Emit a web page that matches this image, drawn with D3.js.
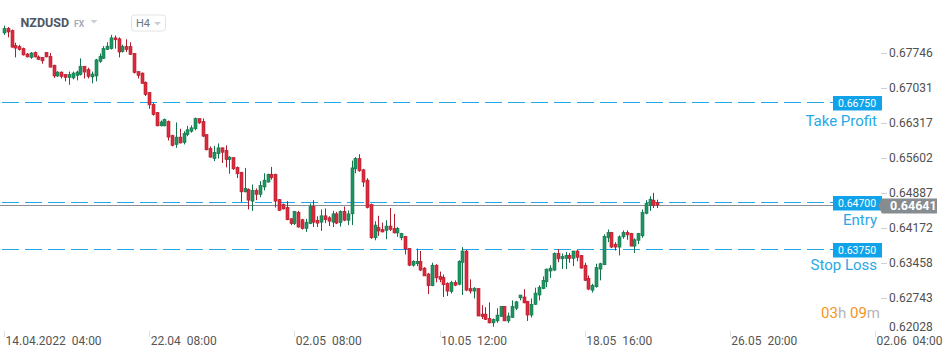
<!DOCTYPE html>
<html><head><meta charset="utf-8">
<script src="https://cdn.jsdelivr.net/npm/d3@7/dist/d3.min.js"></script>
<style>
html,body{margin:0;padding:0;background:#fff;}
svg{display:block;font-family:Roboto,"Noto Sans",sans-serif;}
</style></head><body>
<svg id="c" width="949" height="358"></svg>
<script>
// ---- data (H4 candles, NZDUSD) ----
const open = [0.6816,0.6825,0.6821,0.6790,0.6788,0.6784,0.6773,0.6766,0.6776,0.6767,0.6766,0.6776,0.6768,0.6750,0.6728,0.6736,0.6731,0.6725,0.6724,0.6729,
0.6731,0.6748,0.6741,0.6726,0.6728,0.6758,0.6764,0.6782,0.6784,0.6806,0.6804,0.6778,0.6788,0.6788,0.6774,0.6737,0.6734,0.6715,0.6694,0.6670,
0.6653,0.6626,0.6626,0.6635,0.6606,0.6588,0.6603,0.6592,0.6608,0.6615,0.6620,0.6641,0.6635,0.6608,0.6580,0.6559,0.6569,0.6581,0.6576,0.6557,
0.6561,0.6541,0.6531,0.6491,0.6496,0.6472,0.6494,0.6486,0.6501,0.6511,0.6527,0.6527,0.6475,0.6465,0.6459,0.6436,0.6426,0.6449,0.6434,0.6416,
0.6426,0.6461,0.6433,0.6429,0.6442,0.6438,0.6429,0.6446,0.6428,0.6451,0.6433,0.6446,0.6538,0.6559,0.6536,0.6515,0.6465,0.6397,0.6418,0.6414,
0.6412,0.6421,0.6416,0.6407,0.6397,0.6400,0.6375,0.6341,0.6344,0.6349,0.6335,0.6323,0.6299,0.6341,0.6318,0.6316,0.6304,0.6287,0.6306,0.6302,
0.6347,0.6370,0.6293,0.6288,0.6293,0.6241,0.6241,0.6232,0.6223,0.6227,0.6236,0.6257,0.6227,0.6234,0.6253,0.6274,0.6276,0.6267,0.6239,0.6261,
0.6280,0.6293,0.6307,0.6329,0.6331,0.6365,0.6354,0.6355,0.6361,0.6355,0.6370,0.6361,0.6341,0.6314,0.6290,0.6297,0.6333,0.6342,0.6397,0.6408,
0.6384,0.6378,0.6399,0.6408,0.6406,0.6380,0.6392,0.6401,0.6447,0.6463,0.6474,0.6469];
const high = [0.6831,0.6828,0.6823,0.6796,0.6792,0.6786,0.6775,0.6777,0.6778,0.6770,0.6767,0.6777,0.6775,0.6751,0.6738,0.6737,0.6732,0.6737,0.6737,0.6739,
0.6764,0.6748,0.6745,0.6737,0.6763,0.6774,0.6789,0.6797,0.6812,0.6811,0.6807,0.6792,0.6803,0.6797,0.6775,0.6737,0.6735,0.6717,0.6695,0.6673,
0.6654,0.6637,0.6641,0.6637,0.6608,0.6633,0.6620,0.6615,0.6626,0.6627,0.6643,0.6641,0.6641,0.6608,0.6584,0.6585,0.6590,0.6582,0.6586,0.6564,
0.6562,0.6543,0.6532,0.6540,0.6498,0.6506,0.6498,0.6513,0.6529,0.6528,0.6542,0.6528,0.6476,0.6467,0.6472,0.6437,0.6452,0.6452,0.6436,0.6436,
0.6467,0.6474,0.6441,0.6455,0.6457,0.6441,0.6452,0.6450,0.6453,0.6461,0.6453,0.6555,0.6562,0.6568,0.6538,0.6519,0.6467,0.6431,0.6442,0.6428,
0.6433,0.6458,0.6446,0.6419,0.6407,0.6401,0.6376,0.6351,0.6375,0.6370,0.6337,0.6325,0.6346,0.6343,0.6328,0.6322,0.6306,0.6309,0.6310,0.6351,
0.6378,0.6372,0.6312,0.6296,0.6294,0.6259,0.6255,0.6265,0.6232,0.6253,0.6257,0.6257,0.6244,0.6269,0.6268,0.6280,0.6292,0.6268,0.6273,0.6295,
0.6300,0.6318,0.6334,0.6341,0.6367,0.6374,0.6365,0.6368,0.6366,0.6370,0.6372,0.6362,0.6346,0.6320,0.6303,0.6344,0.6346,0.6404,0.6414,0.6409,
0.6388,0.6402,0.6412,0.6412,0.6407,0.6396,0.6407,0.6455,0.6474,0.6482,0.6489,0.6475];
const low = [0.6812,0.6807,0.6786,0.6766,0.6780,0.6770,0.6766,0.6763,0.6766,0.6761,0.6753,0.6766,0.6746,0.6724,0.6726,0.6723,0.6717,0.6710,0.6721,0.6719,
0.6729,0.6723,0.6723,0.6713,0.6717,0.6755,0.6763,0.6782,0.6782,0.6784,0.6766,0.6776,0.6777,0.6771,0.6733,0.6723,0.6712,0.6687,0.6661,0.6647,
0.6625,0.6625,0.6625,0.6596,0.6584,0.6581,0.6590,0.6588,0.6605,0.6612,0.6617,0.6630,0.6603,0.6576,0.6561,0.6554,0.6559,0.6550,0.6541,0.6528,
0.6536,0.6519,0.6470,0.6490,0.6455,0.6452,0.6474,0.6480,0.6494,0.6510,0.6516,0.6459,0.6452,0.6455,0.6433,0.6423,0.6423,0.6418,0.6414,0.6409,
0.6425,0.6419,0.6419,0.6411,0.6427,0.6421,0.6419,0.6425,0.6420,0.6431,0.6423,0.6423,0.6529,0.6532,0.6501,0.6457,0.6395,0.6392,0.6401,0.6408,
0.6394,0.6411,0.6406,0.6399,0.6392,0.6363,0.6339,0.6338,0.6339,0.6329,0.6319,0.6282,0.6298,0.6306,0.6306,0.6276,0.6278,0.6283,0.6298,0.6300,
0.6280,0.6288,0.6283,0.6273,0.6237,0.6231,0.6229,0.6222,0.6215,0.6223,0.6236,0.6227,0.6223,0.6233,0.6249,0.6269,0.6263,0.6227,0.6234,0.6260,
0.6269,0.6292,0.6296,0.6315,0.6329,0.6347,0.6333,0.6333,0.6346,0.6339,0.6349,0.6334,0.6309,0.6290,0.6285,0.6295,0.6310,0.6341,0.6388,0.6376,
0.6371,0.6361,0.6395,0.6393,0.6380,0.6366,0.6384,0.6397,0.6445,0.6452,0.6458,0.6458];
const close = [0.6825,0.6818,0.6787,0.6785,0.6782,0.6771,0.6767,0.6775,0.6767,0.6762,0.6759,0.6767,0.6746,0.6728,0.6736,0.6727,0.6725,0.6731,0.6734,0.6736,
0.6748,0.6736,0.6727,0.6732,0.6761,0.6768,0.6784,0.6789,0.6806,0.6802,0.6777,0.6788,0.6782,0.6772,0.6735,0.6729,0.6713,0.6690,0.6669,0.6649,
0.6626,0.6634,0.6639,0.6603,0.6586,0.6603,0.6591,0.6610,0.6618,0.6622,0.6641,0.6632,0.6605,0.6577,0.6562,0.6572,0.6581,0.6572,0.6557,0.6562,
0.6538,0.6528,0.6491,0.6498,0.6474,0.6494,0.6486,0.6504,0.6515,0.6527,0.6520,0.6472,0.6453,0.6456,0.6434,0.6426,0.6451,0.6419,0.6416,0.6429,
0.6461,0.6429,0.6427,0.6442,0.6434,0.6431,0.6446,0.6427,0.6451,0.6433,0.6446,0.6540,0.6559,0.6534,0.6511,0.6459,0.6397,0.6423,0.6411,0.6409,
0.6421,0.6414,0.6407,0.6416,0.6406,0.6374,0.6341,0.6349,0.6349,0.6331,0.6319,0.6299,0.6341,0.6315,0.6312,0.6301,0.6288,0.6306,0.6300,0.6349,
0.6370,0.6290,0.6288,0.6294,0.6237,0.6236,0.6230,0.6223,0.6230,0.6239,0.6257,0.6227,0.6237,0.6257,0.6266,0.6280,0.6264,0.6239,0.6261,0.6284,
0.6296,0.6310,0.6333,0.6335,0.6365,0.6354,0.6359,0.6361,0.6355,0.6370,0.6357,0.6335,0.6310,0.6292,0.6300,0.6336,0.6344,0.6400,0.6408,0.6378,
0.6378,0.6399,0.6408,0.6403,0.6380,0.6393,0.6406,0.6449,0.6467,0.6476,0.6463,0.64641];

const timeTickIndex = [0, 38, 76, 114, 152, 190, 228];
const timeTickLabels = ["14.04.2022  04:00", "22.04  08:00", "02.05  08:00", "10.05  12:00", "18.05  16:00", "26.05  20:00", "02.06  04:00"];
const priceTicks = [0.67746, 0.67031, 0.66317, 0.65602, 0.64887, 0.64172, 0.63458, 0.62743, 0.62028];
const levelNames = ["Take Profit", "Entry", "Stop Loss"];
const levelValues = [0.66750, 0.64700, 0.63750];
const lastPrice = 0.64641;
const symbol = "NZDUSD", market = "FX", timeframe = "H4";
const countdown = ["03", "h ", "09", "m"];

// ---- scales ----
const x = d3.scaleLinear().domain([0, 228]).range([4, 875]);
const y = d3.scaleLinear().domain([0.62743, 0.67746]).range([297.8, 53.2]);
const svg = d3.select("#c");

const crisp = v => Math.round(v) + 0.5;
const labelDy = [23, 22, 20.5];

// ---- level lines ----
const levelG = svg.append("g");
levelValues.forEach((v, k) => {
  const yy = crisp(y(v));
  levelG.append("line").attr("x1", 2).attr("x2", 833).attr("y1", yy).attr("y2", yy)
    .attr("stroke", "#23a6ea").attr("stroke-width", 1).attr("stroke-dasharray", "17,6");
});
// last price line
const lpY = crisp(y(lastPrice));
svg.append("line").attr("x1", 0).attr("x2", 880).attr("y1", lpY).attr("y2", lpY)
  .attr("stroke", "#8c8f92").attr("stroke-width", 1);

// ---- candles ----
const data = open.map((o, i) => ({i, o, h: high[i], l: low[i], c: close[i]}));
const cg = svg.append("g");
data.forEach(d => {
  const up = d.c >= d.o;
  const cx = Math.round(x(d.i));
  const fill = up ? "#1e9462" : "#dd2a3d";
  const edge = up ? "#12754b" : "#b01d2e";
  cg.append("line").attr("x1", cx + 0.5).attr("x2", cx + 0.5)
    .attr("y1", y(d.h)).attr("y2", y(d.l)).attr("stroke", edge).attr("stroke-width", 1);
  const top = y(Math.max(d.o, d.c)), bot = y(Math.min(d.o, d.c));
  cg.append("rect").attr("x", cx - 1).attr("width", 3)
    .attr("y", top).attr("height", Math.max(1, bot - top))
    .attr("fill", fill).attr("stroke", edge).attr("stroke-width", 0.6);
});

// ---- level boxes & labels ----
levelValues.forEach((v, k) => {
  const yy = crisp(y(v));
  svg.append("rect").attr("x", 833).attr("y", yy - 6.5).attr("width", 49).attr("height", 14.5).attr("fill", "#10a3ea");
  svg.append("text").attr("x", 838).attr("y", yy + 4.3).attr("fill", "#fff")
    .attr("font-size", "10.5px").text(v.toFixed(5));
  svg.append("text").attr("x", 877).attr("y", yy + labelDy[k]).attr("text-anchor", "end")
    .attr("fill", "#2aa8e6").attr("font-size", "15px").text(levelNames[k]);
});

// ---- price axis ----
const pa = svg.append("g");
priceTicks.forEach(t => {
  const yy = Math.min(y(t), 327);
  if (y(t) < 330) pa.append("line").attr("x1", 881).attr("x2", 887).attr("y1", crisp(yy)).attr("y2", crisp(yy)).attr("stroke", "#d0d0d0");
  pa.append("text").attr("x", 889).attr("y", yy).attr("dy", "0.35em")
    .attr("fill", "#4f4f4f").attr("font-size", "12px").text(t.toFixed(5));
});
// last price tag
svg.append("path").attr("d", `M878,${lpY} L882,${lpY-7} L937,${lpY-7} L937,${lpY+8} L882,${lpY+8} Z`).attr("fill", "#868c90");
svg.append("text").attr("x", 890).attr("y", lpY).attr("dy", "0.36em").attr("fill", "#fff")
  .attr("font-size", "12.5px").attr("font-weight", "bold").text(lastPrice.toFixed(5));

// ---- time axis ----
const ta = svg.append("g");
timeTickIndex.forEach((ti, k) => {
  const xx = x(ti);
  ta.append("line").attr("x1", crisp(xx)).attr("x2", crisp(xx)).attr("y1", 331).attr("y2", 337).attr("stroke", "#e0e0e0");
  ta.append("text").attr("x", xx + 1.5).attr("y", 345).attr("fill", "#555")
    .attr("font-size", "12px").attr("xml:space", "preserve").style("white-space", "pre").text(timeTickLabels[k]);
});

// ---- countdown ----
const cd = svg.append("text").attr("x", 880).attr("y", 318).attr("text-anchor", "end").attr("font-size", "15px").style("white-space","pre");
countdown.forEach((s, k) => cd.append("tspan").attr("fill", k % 2 === 0 ? "#f7941d" : "#b5b5b5").text(s));

// ---- header ----
svg.append("text").attr("x", 20.5).attr("y", 27).attr("fill", "#4c5863").attr("font-size", "12.5px").attr("font-weight", "bold").text(symbol);
svg.append("text").attr("x", 74).attr("y", 27).attr("fill", "#a3abb2").attr("font-size", "8.5px").attr("font-weight", "bold").text(market);
svg.append("path").attr("d", "M90.5,20 L97.5,20 L94,23.5 Z").attr("fill", "#c9ced2");
svg.append("rect").attr("x", 131.5).attr("y", 15).attr("width", 34).attr("height", 16).attr("rx", 3).attr("fill", "#fff").attr("stroke", "#e1e4e7");
svg.append("text").attr("x", 136).attr("y", 27.3).attr("fill", "#6d7780").attr("font-size", "11px").text(timeframe);
svg.append("path").attr("d", "M154,22 L161,22 L157.5,25.5 Z").attr("fill", "#c9ced2");
</script>
</body></html>
